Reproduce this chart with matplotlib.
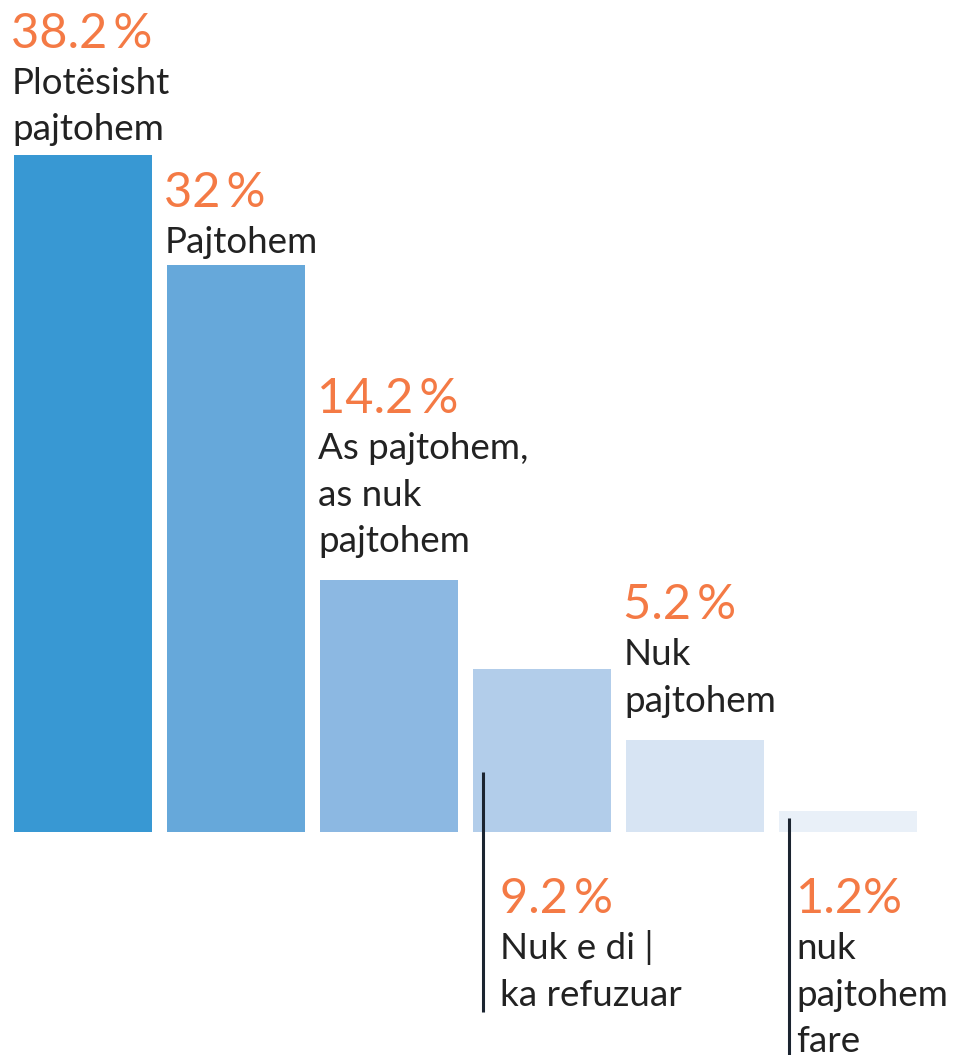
import matplotlib.pyplot as plt

# Data
labels = ["Plotësisht\npajtohem", "Pajtohem", "As pajtohem,\nas nuk\npajtohem",
          "Nuk e di |\nka refuzuar", "Nuk\npajtohem", "nuk\npajtohem\nfare"]
values = [38.2, 32, 14.2, 9.2, 5.2, 1.2]
pct_text = ["38.2\u2009%", "32\u2009%", "14.2\u2009%", "9.2\u2009%", "5.2\u2009%", "1.2%"]
colors = ["#3898d3", "#66a8da", "#8cb8e2", "#b2cdea", "#d7e4f3", "#e9f0f8"]
below = [False, False, False, True, False, True]   # label hangs under the baseline
gap_px = [15, 12, 28, 0, 28, 0]                     # gap between last text line and bar top

ORANGE = "#f47a45"
DARK = "#222222"
LINE = "#1b2430"
FONT = "Lato"

W, H, DPI = 965, 1055, 100
fig = plt.figure(figsize=(W / DPI, H / DPI), dpi=DPI)
ax = fig.add_axes([0, 0, 1, 1])

width = 138 / 153
x = list(range(len(values)))
ax.bar(x, values, width=width, color=colors, linewidth=0)

# map pixels onto data: bar centres 153 px apart, first at 83 px; baseline at 832 px
px_per_unit = 17.72
ax.set_xlim(-83 / 153, (W - 83) / 153)
ax.set_ylim(-(H - 832) / px_per_unit, 832 / px_per_unit)
ax.axis("off")

line_px = 46.5    # line spacing of label text
pt = 72 / DPI      # pixels -> points


def put(txt, xd, yd, dx_px, dy_px, size, color):
    ax.annotate(txt, xy=(xd, yd), xytext=(dx_px * pt, dy_px * pt),
                textcoords="offset points", ha="left", va="baseline",
                fontsize=size, color=color, family=FONT)


for i, (lab, v) in enumerate(zip(labels, values)):
    left = i - width / 2
    lines = lab.split("\n")
    if not below[i]:
        n = len(lines)
        base = gap_px[i]
        for k, ln in enumerate(lines):
            put(ln, left, v, -2, base + (n - 1 - k) * line_px, 26.5, DARK)
        put(pct_text[i], left, v, -3, base + (n - 1) * line_px + 46, 35, ORANGE)
    else:
        # leader line from inside the bar down to the text
        top_px = 60 if v > 5 else 14
        lx = left + 10 / 153
        ax.plot([lx, lx], [top_px / px_per_unit, (832 - (1012 if i == 3 else H + 5)) / px_per_unit],
                color=LINE, lw=2.2, solid_capstyle="butt")
        put(pct_text[i], left, 0, 27 if i == 3 else 17, -81, 35, ORANGE)
        for k, ln in enumerate(lines):
            put(ln, left, 0, 27 if i == 3 else 17, -127 - k * line_px, 26.5, DARK)

fig.savefig("out.png", dpi=DPI)
